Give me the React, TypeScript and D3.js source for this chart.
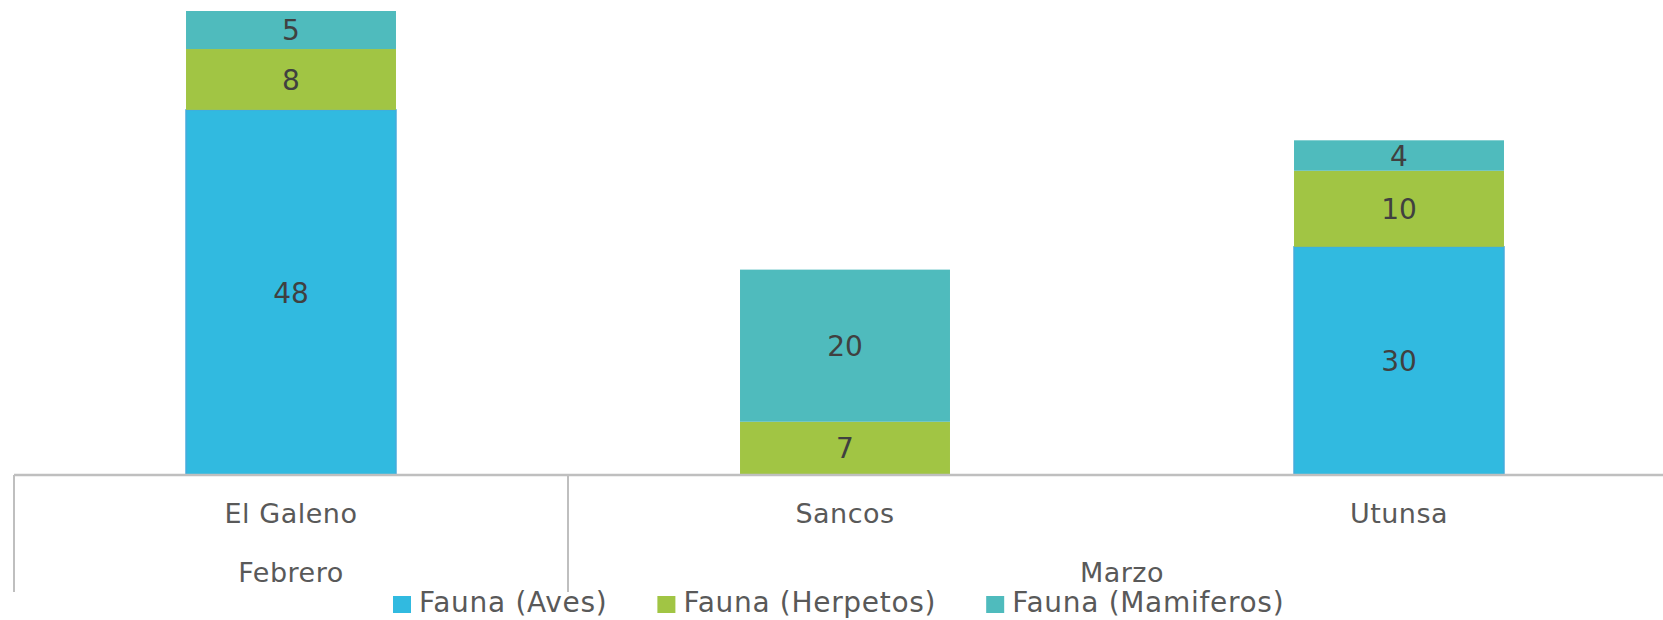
import React, { useRef, useEffect } from 'react';
import * as d3 from 'd3';

const categories = ['El Galeno', 'Sancos', 'Utunsa'];
const monthOf = ['Febrero', 'Marzo', 'Marzo'];
const aves = [48, 0, 30];
const herpetos = [8, 7, 10];
const mamiferos = [5, 20, 4];
const seriesNames = ['Fauna (Aves)', 'Fauna (Herpetos)', 'Fauna (Mamiferos)'];
const seriesColors = ['#31BAE0', '#A1C544', '#4FBBBD'];

export default function App() {
  const ref = useRef<SVGSVGElement>(null);

  useEffect(() => {
    const width = 1663;
    const height = 620;
    const svg = d3.select(ref.current);
    svg.selectAll('*').remove();

    const font = '"DejaVu Sans", sans-serif';
    const baseY = 475;

    const x = d3.scaleBand().domain(categories).range([14, 1676]).padding(0);
    const barW = x.bandwidth() * 0.379;
    const y = d3.scaleLinear().domain([0, 61]).range([baseY, 11]);

    const rows = categories.map((c, i) => ({ cat: c, s0: aves[i], s1: herpetos[i], s2: mamiferos[i] }));
    const stack = d3.stack<any>().keys(['s0', 's1', 's2']);
    const layers = stack(rows);

    const g = svg.append('g');
    layers.forEach((layer, li) => {
      layer.forEach((d: any) => {
        const v = d[1] - d[0];
        if (v <= 0) return;
        const bx = (x(d.data.cat) as number) + (x.bandwidth() - barW) / 2;
        g.append('rect')
          .attr('x', bx)
          .attr('y', y(d[1]))
          .attr('width', barW)
          .attr('height', y(d[0]) - y(d[1]))
          .attr('fill', seriesColors[li])
          .attr('stroke', li === 0 ? '#44ABDC' : 'none')
          .attr('stroke-width', li === 0 ? 1.5 : 0);
        g.append('text')
          .attr('x', bx + barW / 2)
          .attr('y', (y(d[0]) + y(d[1])) / 2)
          .attr('dy', '0.36em')
          .attr('text-anchor', 'middle')
          .attr('font-family', font)
          .attr('font-size', 28)
          .attr('fill', '#404040')
          .text(v);
      });
    });

    // axis
    const axis = svg.append('g');
    axis.append('line')
      .attr('x1', 14).attr('x2', width)
      .attr('y1', baseY).attr('y2', baseY)
      .attr('stroke', '#BFBFBF').attr('stroke-width', 2.5);

    categories.forEach((c) => {
      axis.append('text')
        .attr('x', (x(c) as number) + x.bandwidth() / 2)
        .attr('y', 523)
        .attr('text-anchor', 'middle')
        .attr('font-family', font)
        .attr('font-size', 27)
        .attr('letter-spacing', 0.5)
        .attr('fill', '#595959')
        .text(c);
    });

    const months = Array.from(new Set(monthOf));
    months.forEach((m) => {
      const idx = monthOf.map((mm, i) => (mm === m ? i : -1)).filter((i) => i >= 0);
      const x0 = x(categories[idx[0]]) as number;
      const x1 = (x(categories[idx[idx.length - 1]]) as number) + x.bandwidth();
      axis.append('line')
        .attr('x1', x0).attr('x2', x0)
        .attr('y1', baseY).attr('y2', 592)
        .attr('stroke', '#BFBFBF').attr('stroke-width', 2);
      axis.append('text')
        .attr('x', (x0 + x1) / 2)
        .attr('y', 582)
        .attr('text-anchor', 'middle')
        .attr('font-family', font)
        .attr('font-size', 27)
        .attr('letter-spacing', 0.5)
        .attr('fill', '#595959')
        .text(m);
    });

    // legend
    const legend = svg.append('g');
    let lx = 393;
    seriesNames.forEach((name, i) => {
      legend.append('rect')
        .attr('x', lx).attr('y', 596)
        .attr('width', 18).attr('height', 17)
        .attr('fill', seriesColors[i]);
      const t = legend.append('text')
        .attr('x', lx + 26)
        .attr('y', 612)
        .attr('font-family', font)
        .attr('font-size', 28)
        .attr('letter-spacing', 0.7)
        .attr('fill', '#595959')
        .text(name);
      const tw = (t.node() as SVGTextElement).getComputedTextLength();
      lx = lx + 26 + tw + 50;
    });

    svg.attr('width', width).attr('height', height);
  }, []);

  return (
    <svg
      ref={ref}
      style={{ position: 'absolute', left: 0, top: 0, background: '#fff' }}
      width={1663}
      height={620}
    />
  );
}
